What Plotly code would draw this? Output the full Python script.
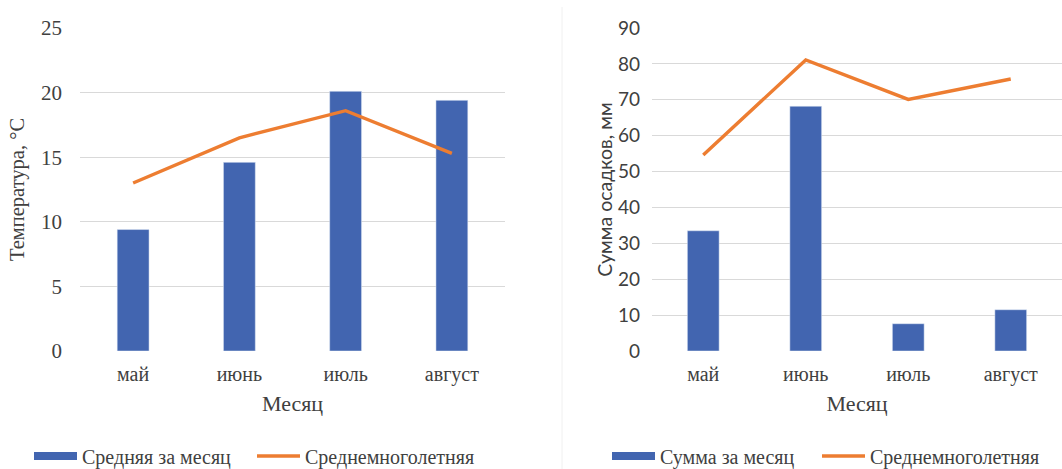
import plotly.graph_objects as go

months = ["май", "июнь", "июль", "август"]
temp_month = [9.4, 14.6, 20.1, 19.4]
temp_norm = [13.0, 16.5, 18.6, 15.3]
prec_month = [33.5, 68.2, 7.6, 11.5]
prec_norm = [54.6, 81.1, 70.1, 75.8]

BLUE = "#4265B0"
ORANGE = "#ED7D31"
SERIF = "Liberation Serif, Times New Roman, serif"
SANS = "Lato, Noto Sans, sans-serif"
TXT = "#404040"
W, H = 1062, 469

fig = go.Figure()

fig.add_trace(go.Bar(x=months, y=temp_month, marker_color=BLUE, width=0.3,
                     showlegend=False, xaxis="x", yaxis="y"))
fig.add_trace(go.Scatter(x=months, y=temp_norm, mode="lines",
                         line=dict(color=ORANGE, width=3.4),
                         name="Среднемноголетняя", legend="legend2",
                         xaxis="x", yaxis="y"))
fig.add_trace(go.Bar(x=months, y=prec_month, marker_color=BLUE, width=0.31,
                     showlegend=False, xaxis="x2", yaxis="y2"))
fig.add_trace(go.Scatter(x=months, y=prec_norm, mode="lines",
                         line=dict(color=ORANGE, width=3.4),
                         name="Среднемноголетняя", legend="legend4",
                         xaxis="x2", yaxis="y2"))

# legend-only entries mimicking the wide bar swatches
fig.add_trace(go.Scatter(x=[None], y=[None], mode="lines", line=dict(color=BLUE, width=8),
                         name="Средняя за месяц", legend="legend"))
fig.add_trace(go.Scatter(x=[None], y=[None], mode="lines", line=dict(color=BLUE, width=8),
                         name="Сумма за месяц", legend="legend3"))

base = dict(showline=False, zeroline=False, ticks="", automargin=False)

def leg(xpx):
    return dict(orientation="h", x=xpx / W, y=1 - 456 / H, xanchor="left", yanchor="middle",
                font=dict(family=SERIF, size=20, color=TXT), itemwidth=43,
                bgcolor="rgba(0,0,0,0)")

fig.update_layout(
    width=W, height=H,
    margin=dict(l=0, r=0, t=0, b=0, autoexpand=False),
    paper_bgcolor="white", plot_bgcolor="white",
    font=dict(family=SERIF, color=TXT),
    xaxis=dict(domain=[80 / W, 505 / W], anchor="y", range=[-0.5, 3.5],
               showgrid=False, ticklabelstandoff=9,
               tickfont=dict(family=SERIF, size=20, color=TXT),
               title=dict(text="Месяц", font=dict(family=SERIF, size=22, color=TXT), standoff=10),
               **base),
    yaxis=dict(domain=[1 - 351 / H, 1 - 28 / H], anchor="x", range=[0, 25], dtick=5,
               showgrid=True, gridcolor="#D9D9D9", gridwidth=1, ticklabelstandoff=17,
               tickfont=dict(family=SERIF, size=21, color=TXT),
               title=dict(text="Температура, °С", font=dict(family=SERIF, size=20.5, color=TXT), standoff=10),
               **base),
    xaxis2=dict(domain=[652 / W, 1.0], anchor="y2", range=[-0.5, 3.5],
                showgrid=False, ticklabelstandoff=9,
                tickfont=dict(family=SERIF, size=20, color=TXT),
                title=dict(text="Месяц", font=dict(family=SERIF, size=22, color=TXT), standoff=10),
                **base),
    yaxis2=dict(domain=[1 - 351 / H, 1 - 28 / H], anchor="x2", range=[0, 90], dtick=10,
                showgrid=True, gridcolor="#D9D9D9", gridwidth=1, ticklabelstandoff=11,
                tickfont=dict(family=SANS, size=19, color=TXT),
                title=dict(text="Сумма осадков, мм", font=dict(family=SANS, size=19.5, color=TXT), standoff=0),
                **base),
    legend=leg(29),
    legend2=leg(252),
    legend3=leg(607),
    legend4=leg(817),
    shapes=[dict(type="line", xref="paper", yref="paper", x0=562 / W, x1=562 / W,
                 y0=0, y1=1 - 7 / H, line=dict(color="#F0F0F0", width=1))],
)

fig.write_html("out.html", config={"displayModeBar": False},
               post_script="document.body.style.margin='0';")
